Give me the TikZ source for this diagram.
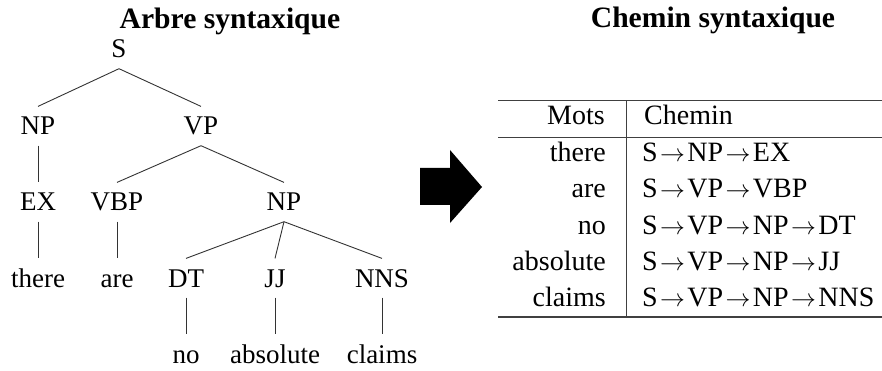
\documentclass[tikz,border=0pt]{standalone}
\usepackage{fontspec}
\setmainfont{Liberation Serif}
% path separator used in the right-hand table
\newcommand\pathto{\kern2.4pt$\rightarrow$\kern2.4pt}
\begin{document}
\begin{tikzpicture}[x=1pt,y=-1pt,
  title/.style={font=\fontsize{29.6}{34}\selectfont\bfseries, anchor=base, inner sep=0pt},
  tnode/.style={font=\fontsize{27}{32}\selectfont, anchor=base, text height=17.9pt,
                text depth=0pt, inner xsep=0pt, inner ysep=10.5pt},
  edge/.style={draw=black!80, line width=0.9pt},
  cell/.style={font=\fontsize{28}{33}\selectfont, inner sep=0pt},
  rule/.style={draw=black!75, line width=#1},
]
\useasboundingbox (0,0) rectangle (882,371);

% titles
\node[title] (t1) at (230,29) {Arbre syntaxique};
\node[title] (t2) at (713,28) {Chemin syntaxique};

% parse tree
\node[tnode] (S)   at (119,58)  {S};
\node[tnode] (NP1) at (38,135)  {NP};
\node[tnode] (VP)  at (201,135) {VP};
\node[tnode] (EX)  at (38,211)  {EX};
\node[tnode] (VBP) at (117,211) {VBP};
\node[tnode] (NP2) at (284,211) {NP};
\node[tnode] (w1)  at (38,287)  {there};
\node[tnode] (w2)  at (117,287) {are};
\node[tnode] (DT)  at (186,287) {DT};
\node[tnode] (JJ)  at (275,287) {JJ};
\node[tnode] (NNS) at (382,287) {NNS};
\node[tnode] (w3)  at (186,363) {no};
\node[tnode] (w4)  at (275,363) {absolute};
\node[tnode] (w5)  at (382,363) {claims};

\draw[edge] (S.south) -- (NP1.north);
\draw[edge] (S.south) -- (VP.north);
\draw[edge] (NP1.south) -- (EX.north);
\draw[edge] (VP.south) -- (VBP.north);
\draw[edge] (VP.south) -- (NP2.north);
\draw[edge] (EX.south) -- (w1.north);
\draw[edge] (VBP.south) -- (w2.north);
\draw[edge] (NP2.south) -- (DT.north);
\draw[edge] (NP2.south) -- (JJ.north);
\draw[edge] (NP2.south) -- (NNS.north);
\draw[edge] (DT.south) -- (w3.north);
\draw[edge] (JJ.south) -- (w4.north);
\draw[edge] (NNS.south) -- (w5.north);

% block arrow
\fill[black] (420,168) -- (450,168) -- (450,150) -- (482,187)
  -- (450,223) -- (450,205) -- (420,205) -- cycle;

% table rules
\draw[rule=1.4pt] (498,100.7) -- (882,100.7);
\draw[rule=0.9pt] (498,137) -- (882,137);
\draw[rule=1.4pt] (498,317) -- (882,317);
\draw[rule=1pt] (626,100.7) -- (626,317);

% table header
\node[cell, anchor=base east] (hm) at (605,125) {Mots};
\node[cell, anchor=base west] (hc) at (644,125) {Chemin};

% table rows
\node[cell, anchor=base east] (m1) at (606,162) {there};
\node[cell, anchor=base east] (m2) at (606,198) {are};
\node[cell, anchor=base east] (m3) at (606,234) {no};
\node[cell, anchor=base east] (m4) at (606,270) {absolute};
\node[cell, anchor=base east] (m5) at (606,306) {claims};
\node[cell, anchor=base west] (c1) at (642,162) {S\pathto NP\pathto EX};
\node[cell, anchor=base west] (c2) at (642,198) {S\pathto VP\pathto VBP};
\node[cell, anchor=base west] (c3) at (642,234) {S\pathto VP\pathto NP\pathto DT};
\node[cell, anchor=base west] (c4) at (642,270) {S\pathto VP\pathto NP\pathto JJ};
\node[cell, anchor=base west] (c5) at (642,306) {S\pathto VP\pathto NP\pathto NNS};
\end{tikzpicture}
\end{document}
